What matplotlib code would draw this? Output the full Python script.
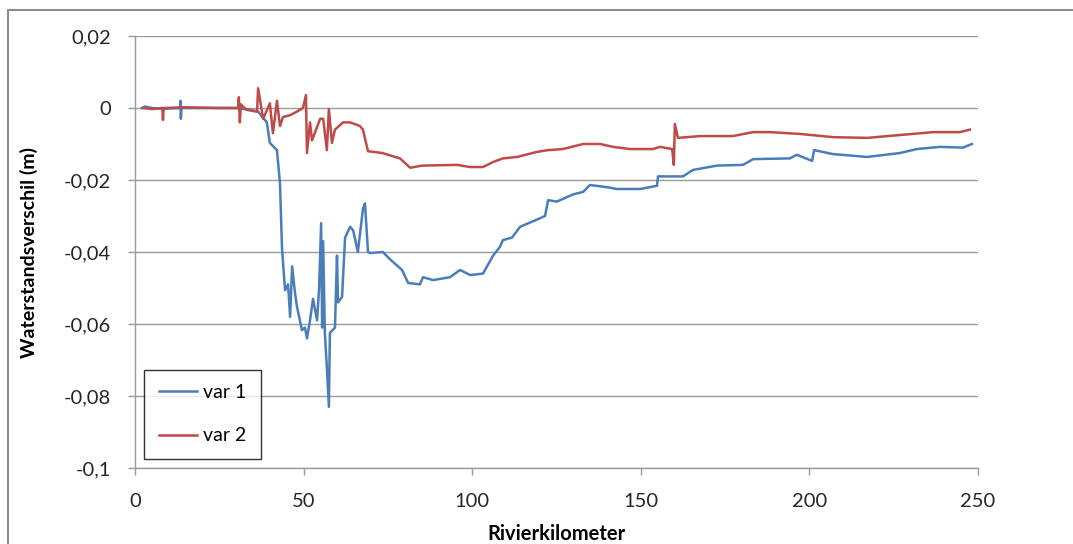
import matplotlib.pyplot as plt
from matplotlib.patches import Rectangle
from matplotlib.ticker import FuncFormatter

plt.rcParams['font.family'] = ['Lato', 'DejaVu Sans']

# var 1 (blue) - rivierkilometer / waterstandsverschil (m)
km1 = [2.1, 3.0, 5, 9, 13.3, 13.5, 13.6, 13.8, 20, 30, 34.1, 36.5, 39.1, 40.0, 42.1, 43.0, 43.6,
       44.5, 45.4, 46.0, 46.6, 47.4, 48.0, 49.5, 50.4, 51.0, 51.9, 52.8, 54.0, 54.6, 55.2,
       55.5, 55.8, 56.3, 56.9, 57.5, 57.8, 59.3, 59.9, 60.2, 61.4, 62.3, 63.8, 64.7, 66.1,
       67.6, 68.2, 69.1, 69.7, 73.5, 75.6, 79.2, 81.0, 84.5, 85.4, 88.4, 93.4, 96.4, 99.4,
       103.2, 106.2, 108.2, 109.1, 111.8, 114.2, 119.2, 121.6, 122.5, 125.1, 129.9, 132.9,
       134.9, 140.0, 142.9, 146.8, 149.8, 154.8, 155.1, 162.5, 165.5, 172.6, 180.3, 183.3,
       194.2, 196.3, 200.8, 201.4, 207.0, 217.1, 226.9, 231.9, 238.7, 245.5, 248.2]
var1 = [0.0, 0.0004, 0.0, -0.0002, 0.0, 0.002, -0.003, 0.0, 0.0, 0.0, -0.0005, -0.001, -0.004,
        -0.0097, -0.0117, -0.021, -0.039, -0.0506, -0.049, -0.058, -0.044, -0.051, -0.055,
        -0.0617, -0.061, -0.064, -0.059, -0.053, -0.059, -0.050, -0.032, -0.061, -0.037,
        -0.0625, -0.072, -0.083, -0.0625, -0.061, -0.041, -0.054, -0.0525, -0.036, -0.033,
        -0.034, -0.040, -0.028, -0.0265, -0.040, -0.0403, -0.040, -0.042, -0.045, -0.0486,
        -0.049, -0.047, -0.0478, -0.047, -0.045, -0.0464, -0.046, -0.041, -0.0386, -0.0367,
        -0.036, -0.033, -0.031, -0.030, -0.0256, -0.026, -0.024, -0.0233, -0.0214, -0.022,
        -0.0225, -0.0225, -0.0225, -0.0216, -0.019, -0.019, -0.0172, -0.016, -0.0158, -0.0142,
        -0.014, -0.013, -0.0147, -0.0117, -0.0128, -0.0136, -0.0125, -0.0114, -0.0108, -0.011,
        -0.0100]

# var 2 (red)
km2 = [2.4, 5, 8.1, 8.3, 8.5, 15, 25, 30.6, 30.8, 31.1, 31.4, 33, 36.2, 36.5, 38.0, 40.0, 40.9,
       42.1, 43.0, 43.9, 46, 48.0, 49.8, 50.7, 51.0, 51.9, 52.5, 54.9, 55.8, 56.9, 57.5,
       58.4, 59.3, 61.7, 63.8, 66.7, 67.6, 69.1, 73.3, 78.6, 81.6, 85.1, 95.5, 99.4, 103.2,
       106.2, 109.1, 113.3, 119.2, 122.5, 126.9, 132.9, 137.9, 141.8, 146.8, 153.6, 155.7,
       159.3, 159.8, 160.1, 161.0, 167.6, 177.3, 183.3, 188.3, 197.2, 207.0, 217.1, 226.9,
       236.7, 244.7, 247.6]
var2 = [0.0, -0.0003, 0.0, -0.0033, 0.0, 0.0002, 0.0, 0.0, 0.003, -0.004, 0.001, -0.0005,
        -0.001, 0.0055, -0.003, 0.0013, -0.007, 0.002, -0.005, -0.0025, -0.002, -0.001, 0.0,
        0.0036, -0.0125, -0.004, -0.009, -0.003, -0.003, -0.0117, -0.0003, -0.0097, -0.006,
        -0.004, -0.004, -0.005, -0.006, -0.012, -0.0125, -0.014, -0.0166, -0.016, -0.0158,
        -0.0164, -0.0164, -0.015, -0.014, -0.0136, -0.0122, -0.0117, -0.0114, -0.010, -0.010,
        -0.0108, -0.0114, -0.0114, -0.0108, -0.0114, -0.0158, -0.0044, -0.0083, -0.0078,
        -0.0078, -0.0067, -0.0067, -0.0072, -0.0081, -0.0083, -0.0075, -0.0067, -0.0067,
        -0.006]

y_ticks = [0.02, 0, -0.02, -0.04, -0.06, -0.08, -0.1]
x_ticks = [0, 50, 100, 150, 200, 250]

fig = plt.figure(figsize=(10.73, 5.44), dpi=100)
ax = fig.add_axes([135 / 1073, 1 - 468 / 544, 843 / 1073, 432 / 544])

# outer chart frame (Excel style)
fig.patches.append(Rectangle((8 / 1073, -0.1), 1.2, 1 - 10 / 544 + 0.1, transform=fig.transFigure,
                             fill=False, edgecolor='#8c8c8c', linewidth=1.5))

ax.plot(km1, var1, color='#4a7ebb', linewidth=1.8, label='var 1')
ax.plot(km2, var2, color='#be4b48', linewidth=1.8, label='var 2')

ax.set_xlim(0, 250)
ax.set_ylim(-0.1, 0.02)
ax.set_xticks(x_ticks)
ax.set_yticks(y_ticks)
ax.yaxis.set_major_formatter(FuncFormatter(lambda v, p: ('%g' % round(v, 3)).replace('.', ',')))
ax.grid(axis='y', color='#9a9a9a', linewidth=1)
ax.set_axisbelow(True)
for s in ['top', 'right']:
    ax.spines[s].set_visible(False)
for s in ['left', 'bottom']:
    ax.spines[s].set_color('#9a9a9a')
    ax.spines[s].set_linewidth(1)
ax.tick_params(colors='#9a9a9a', labelcolor='#262626', labelsize=14.5, length=5, width=1)
ax.tick_params(axis='x', pad=13)
ax.tick_params(axis='y', pad=12)

ax.set_xlabel('Rivierkilometer', fontsize=14.5, fontweight='bold', labelpad=10)
ax.set_ylabel('Waterstandsverschil (m)', fontsize=14, fontweight='bold', labelpad=19)

leg = ax.legend(loc='lower left', bbox_to_anchor=(0.0107, 0.0208), fontsize=14,
                frameon=True, fancybox=False, edgecolor='black', labelspacing=1.35,
                handlelength=2.0, handletextpad=0.3, borderpad=0.75, borderaxespad=0)
leg.get_frame().set_linewidth(1)

fig.savefig('out.png', dpi=100)
